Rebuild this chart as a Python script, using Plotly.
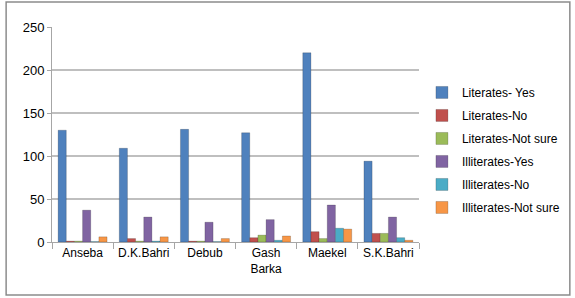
import plotly.graph_objects as go

categories = ["Anseba", "D.K.Bahri", "Debub", "Gash<br>Barka", "Maekel", "S.K.Bahri"]
series_names = ["Literates- Yes", "Literates-No", "Literates-Not sure",
                "Illiterates-Yes", "Illiterates-No", "Illiterates-Not sure"]
lit_yes = [130, 109, 131, 127, 220, 94]
lit_no = [1, 4, 1, 5, 12, 10]
lit_notsure = [1, 1, 1, 8, 4, 10]
ill_yes = [37, 29, 23, 26, 43, 29]
ill_no = [0.5, 1, 0.5, 2, 16, 5]
ill_notsure = [6, 6, 4, 7, 15, 2]
colors = ["#4F81BD", "#C0504D", "#9BBB59", "#8064A2", "#4BACC6", "#F79646"]
y_ticks = [0, 50, 100, 150, 200, 250]

fig = go.Figure()
for i, (name, vals) in enumerate(zip(series_names,
        [lit_yes, lit_no, lit_notsure, ill_yes, ill_no, ill_notsure])):
    fig.add_trace(go.Bar(
        x=categories, y=vals, name=name, legendgroup=name,
        marker=dict(color=colors[i], line=dict(color="rgba(0,0,0,0.3)", width=0.6)),
    ))

fig.update_layout(
    width=575, height=298,
    margin=dict(l=52, r=156, t=27, b=56, autoexpand=False),
    paper_bgcolor="white", plot_bgcolor="white",
    barmode="group", bargap=0.2, bargroupgap=0.0,
    font=dict(family="Liberation Sans, Arial, sans-serif", size=12, color="#000000"),
    legend=dict(
        x=1.008, y=0.763, xanchor="left", yanchor="top",
        font=dict(size=12, family="Liberation Sans Narrow, Liberation Sans, sans-serif"),
        tracegroupgap=4, itemwidth=30,
        bgcolor="rgba(0,0,0,0)",
    ),
    xaxis=dict(
        type="category", showgrid=False, showline=True, linecolor="#A6A6A6",
        ticks="outside", tickson="boundaries", ticklen=6, tickcolor="#A6A6A6",
        tickfont=dict(size=12), tickangle=0, automargin=False,
    ),
    yaxis=dict(
        range=[0, 250], tickvals=y_ticks, showgrid=True, gridcolor="#BFBFBF",
        gridwidth=1.5, showline=True, linecolor="#A6A6A6", zeroline=False,
        ticks="outside", ticklen=4, tickcolor="#A6A6A6", tickfont=dict(size=13),
        automargin=False,
    ),
    shapes=[dict(type="rect", xref="paper", yref="paper",
                 x0=-0.125, x1=1.411, y0=-0.247, y1=1.116,
                 line=dict(color="#8C8C8C", width=1.5), layer="above")],
)

fig.write_html("out.html", config={"displayModeBar": False},
               post_script="document.body.style.margin='0';document.body.style.overflow='hidden';")
